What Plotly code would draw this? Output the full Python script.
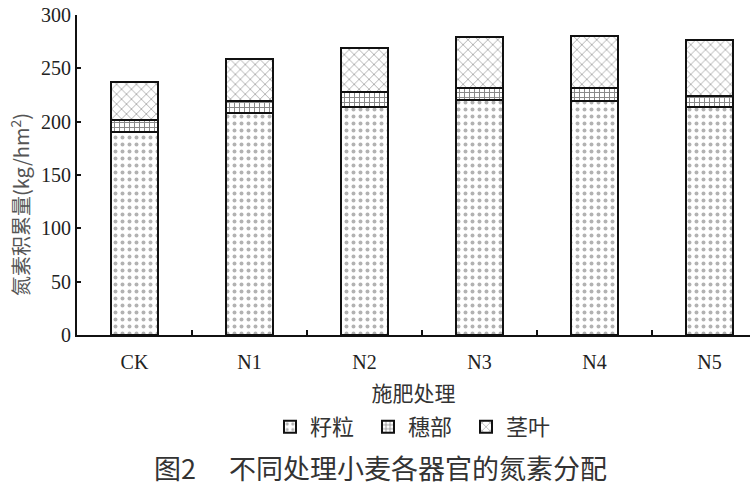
import plotly.graph_objects as go

categories = ["CK", "N1", "N2", "N3", "N4", "N5"]
grain = [190, 208, 214, 220, 219, 214]      # 籽粒
spike = [12, 11, 14, 12, 13, 10]            # 穗部
stem_leaf = [35, 40, 41, 47, 48, 53]        # 茎叶
y_ticks = [0, 50, 100, 150, 200, 250, 300]

series = [
    ("籽粒", grain, dict(shape=".", fgcolor="#666666", bgcolor="white", size=7, solidity=0.25)),
    ("穗部", spike, dict(shape="+", fgcolor="#111111", bgcolor="white", size=5, solidity=0.35)),
    ("茎叶", stem_leaf, dict(shape="x", fgcolor="#333333", bgcolor="white", size=7, solidity=0.2)),
]

fig = go.Figure()
for name, vals, pat in series:
    fig.add_trace(go.Bar(
        x=categories, y=vals, name=name, width=0.41,
        marker=dict(color="white", pattern=pat, line=dict(color="#111111", width=2)),
    ))

serif = "Liberation Serif, DejaVu Serif, serif"
cjk = "Noto Sans CJK SC"

# plot area on screen: x 77..750, y 15..335 (115 px per category)
PW = 673.0
PH = 320.0
def px(xs):
    return (xs - 77) / PW
def py(ys):
    return (335 - ys) / PH

fig.update_layout(
    barmode="stack",
    width=750, height=500,
    margin=dict(l=77, r=0, t=15, b=165, autoexpand=False),
    paper_bgcolor="white", plot_bgcolor="white",
    showlegend=True,
    legend=dict(orientation="h", traceorder="normal",
                x=px(270), xanchor="left",
                y=py(427), yanchor="middle",
                font=dict(family=cjk, size=22, color="#333333"),
                itemwidth=30, entrywidth=53, entrywidthmode="pixels",
                bgcolor="rgba(0,0,0,0)"),
    xaxis=dict(range=[-0.5, -0.5 + PW / 115.0], showline=True, linecolor="#111111", linewidth=2,
               ticks="inside", ticklen=5, tickwidth=2, tickcolor="#111111",
               tickson="boundaries", showgrid=False, zeroline=False, ticklabelstandoff=8,
               tickfont=dict(family=serif, size=20, color="#222222"),
               title=dict(text="施肥处理", font=dict(family=cjk, size=21, color="#333333"), standoff=14)),
    yaxis=dict(range=[0, 300], tickvals=y_ticks, showline=True, linecolor="#111111", linewidth=2,
               ticks="inside", ticklen=4, tickwidth=2, tickcolor="#111111",
               showgrid=False, zeroline=False,
               tickfont=dict(family=serif, size=20, color="#222222")),
    annotations=[
        dict(text="氮素积累量(kg/hm<sup>2</sup>)", xref="paper", yref="paper",
             x=px(20), y=py(205), xanchor="center", yanchor="middle",
             textangle=-90, showarrow=False,
             font=dict(family=cjk, size=20, color="#555555")),
        dict(text="图2　 不同处理小麦各器官的氮素分配", xref="paper", yref="paper",
             x=px(380), y=py(467), xanchor="center", yanchor="middle",
             showarrow=False,
             font=dict(family=cjk, size=27, color="#333333")),
    ],
)

fig.write_html("out.html", config={"displayModeBar": False},
               post_script="document.body.style.margin='0';")
